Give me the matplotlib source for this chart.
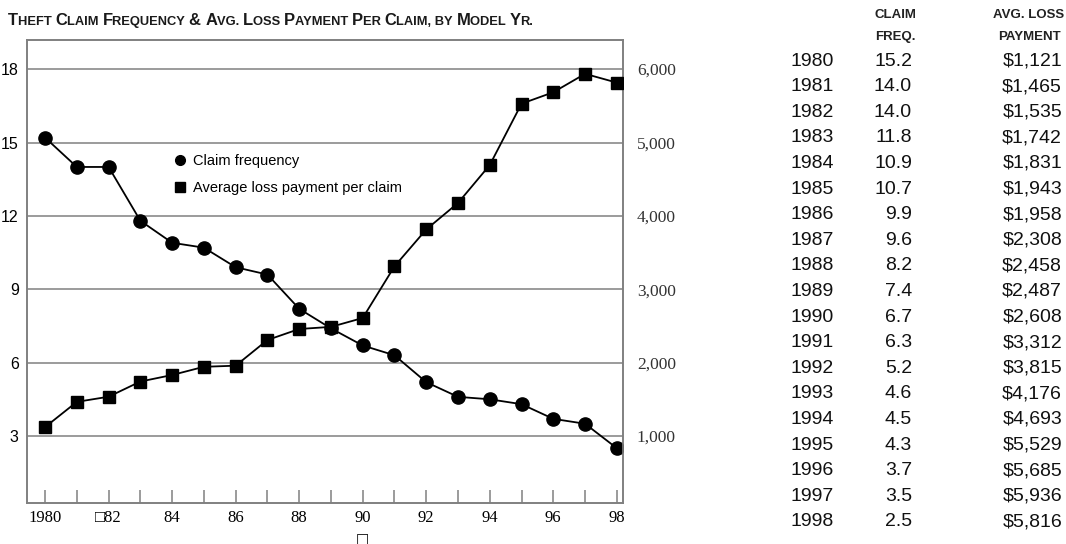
import matplotlib.pyplot as plt
from matplotlib.lines import Line2D

years = list(range(1980, 1999))
claim_freq = [15.2, 14.0, 14.0, 11.8, 10.9, 10.7, 9.9, 9.6, 8.2, 7.4,
              6.7, 6.3, 5.2, 4.6, 4.5, 4.3, 3.7, 3.5, 2.5]
avg_loss = [1121, 1465, 1535, 1742, 1831, 1943, 1958, 2308, 2458, 2487,
            2608, 3312, 3815, 4176, 4693, 5529, 5685, 5936, 5816]
year_ticks = [1980, 1982, 1984, 1986, 1988, 1990, 1992, 1994, 1996, 1998]
year_labels = ['1980', '\u25a182', '84', '86', '88', '90', '92', '94', '96', '98']
left_ticks = [3, 6, 9, 12, 15, 18]
right_ticks = [1000, 2000, 3000, 4000, 5000, 6000]

narrow = ['Liberation Sans Narrow', 'Liberation Sans', 'DejaVu Sans']
serif = ['Liberation Serif', 'DejaVu Serif']
gray = '#808080'

fig = plt.figure(figsize=(10.66, 5.44), dpi=100)
ax = fig.add_axes([0.0253, 0.0754, 0.559, 0.851])
ax2 = ax.twinx()

ax.set_xlim(1979.43, 1998.19)
ax.set_ylim(0.26, 19.19)
ax2.set_ylim(0.26 * 1000 / 3, 19.19 * 1000 / 3)

for y in left_ticks:
    ax.axhline(y, color=gray, lw=1.1, zorder=1)

ax.plot(years, claim_freq, color='black', lw=1.3, marker='o', ms=9.5, zorder=3)
ax2.plot(years, avg_loss, color='black', lw=1.3, marker='s', ms=8, zorder=3)

for a in (ax, ax2):
    for s in a.spines.values():
        s.set_color(gray)
        s.set_linewidth(1.2)

ax.set_xticks(years, minor=True)
ax.set_xticks(year_ticks)
ax.set_xticklabels(year_labels, family=serif, fontsize=12)
ax.tick_params(axis='x', which='both', direction='in', length=9.5, color=gray, width=1.1, pad=5)
ax.set_yticks(left_ticks)
ax.set_yticklabels([str(v) for v in left_ticks], family=narrow, fontsize=11.5)
ax.tick_params(axis='y', length=0, pad=6)
ax2.set_yticks(right_ticks)
ax2.set_yticklabels(['{:,}'.format(v) for v in right_ticks], family=serif, fontsize=12.5)
ax2.tick_params(axis='y', length=0, pad=10, colors='#333333')
ax2.tick_params(axis='x', length=0)

ax.text(1990, -0.062, '\u25a1', transform=ax.get_xaxis_transform(), ha='center', va='top',
        fontsize=10, color='black')

handles = [Line2D([], [], ls='none', marker='o', color='black', ms=7),
           Line2D([], [], ls='none', marker='s', color='black', ms=6.5)]
leg = ax.legend(handles, ['Claim frequency', 'Average loss payment per claim'],
                loc='upper left', bbox_to_anchor=(0.22, 0.783), frameon=False,
                prop={'family': narrow, 'size': 10.5}, handletextpad=0.3,
                labelspacing=0.95, handlelength=1.2)

# small caps title
title_parts = [('T', 1), ('HEFT ', 0), ('C', 1), ('LAIM ', 0), ('F', 1), ('REQUENCY ', 0),
               ('& ', 1), ('A', 1), ('VG. ', 0), ('L', 1), ('OSS ', 0), ('P', 1), ('AYMENT ', 0),
               ('P', 1), ('ER ', 0), ('C', 1), ('LAIM, BY ', 0), ('M', 1), ('ODEL ', 0),
               ('Y', 1), ('R.', 0)]
renderer = fig.canvas.get_renderer()
x = 8
for txt, big in title_parts:
    t = fig.text(x / 1066, 1 - 25 / 544, txt, fontsize=11.9 if big else 9.3,
                 weight='bold', family=narrow, ha='left', va='baseline', color='#1a1a1a')
    x += t.get_window_extent(renderer).width

# data table
hdr = dict(va='center', fontsize=9.5, weight='bold', family='Liberation Sans', color='#222222')
fig.text(895 / 1066, 1 - 15 / 544, 'CLAIM', ha='center', **hdr)
fig.text(895 / 1066, 1 - 37 / 544, 'FREQ.', ha='center', **hdr)
fig.text(1029 / 1066, 1 - 15 / 544, 'AVG. LOSS', ha='center', **hdr)
fig.text(1029 / 1066, 1 - 37 / 544, 'PAYMENT', ha='center', **hdr)
for i, yr in enumerate(years):
    yy = 1 - (61 + i * 25.6) / 544
    fig.text(790 / 1066, yy, str(yr), ha='left', va='center', fontsize=14,
             family='Liberation Sans', color='#111111')
    fig.text(912 / 1066, yy, '{:.1f}'.format(claim_freq[i]), ha='right', va='center',
             fontsize=14, family='Liberation Sans', color='#111111')
    fig.text(1062 / 1066, yy, '${:,}'.format(avg_loss[i]), ha='right', va='center',
             fontsize=14, family='Liberation Sans', color='#111111')

fig.savefig('out.png', dpi=100)
